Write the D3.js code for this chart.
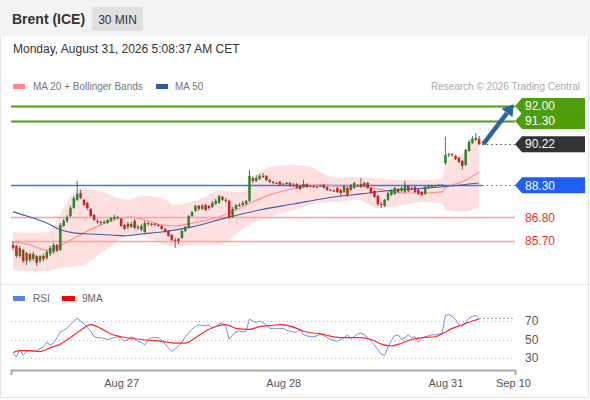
<!DOCTYPE html>
<html>
<head>
<meta charset="utf-8">
<script src="https://cdn.jsdelivr.net/npm/d3@7"></script>
<style>
  body { margin: 0; background: #fff; font-family: "Liberation Sans", Arial, sans-serif; }
</style>
</head>
<body>
<div class="chart"></div>
<script>
// 30 min bars, index 0..138
const opens = [85.52,85.47,85.00,85.28,84.77,85.10,84.86,85.00,84.77,85.00,
  84.91,85.10,85.19,85.52,85.28,86.40,86.64,86.87,87.24,87.62,
  87.94,87.62,87.48,87.20,86.92,86.64,86.59,86.54,86.54,86.64,
  86.73,86.82,86.73,86.45,86.50,86.36,86.64,86.36,86.22,86.12,
  86.54,86.50,86.50,86.45,86.40,86.26,86.17,85.98,85.75,85.80,
  85.84,86.17,86.36,86.87,87.10,87.34,87.20,87.38,87.34,87.29,
  87.43,87.48,87.76,87.62,87.57,86.82,87.20,87.38,87.38,87.43,
  87.57,88.64,88.50,88.60,88.74,88.74,88.55,88.46,88.41,88.46,
  88.36,88.36,88.41,88.27,88.36,88.27,88.22,88.36,88.27,88.27,
  88.22,88.27,88.32,88.22,88.08,88.04,88.18,88.08,87.99,88.18,
  88.08,88.18,88.27,88.36,88.27,88.41,88.18,88.04,87.80,87.43,
  87.34,87.62,87.85,87.90,88.13,88.04,87.99,88.27,88.13,88.22,
  88.08,87.99,87.90,88.18,88.22,88.27,88.27,88.32,89.34,89.72,
  89.76,89.67,89.58,89.44,89.25,89.90,90.28,90.42,90.46]
const closes = [85.38,85.00,85.38,84.77,85.14,84.82,85.10,84.68,85.00,84.86,
  85.19,85.38,85.52,85.24,86.45,86.64,86.82,87.24,87.71,87.90,
  87.71,87.38,87.24,86.87,86.68,86.59,86.54,86.59,86.68,86.78,
  86.82,86.78,86.40,86.26,86.36,86.50,86.31,86.31,86.40,86.54,
  86.50,86.49,86.45,86.40,86.26,86.12,85.94,85.75,85.74,85.70,
  86.17,86.36,86.87,87.06,87.34,87.20,87.34,87.15,87.24,87.48,
  87.57,87.80,87.62,87.57,86.82,87.20,87.38,87.37,87.48,87.57,
  88.74,88.50,88.64,88.74,88.69,88.55,88.46,88.41,88.40,88.32,
  88.37,88.41,88.27,88.32,88.18,88.13,88.36,88.22,88.26,88.22,
  88.21,88.28,88.18,88.08,88.07,88.03,87.99,87.94,88.27,87.85,
  88.32,88.41,88.28,88.22,88.41,88.18,87.94,87.76,87.43,87.38,
  87.62,87.94,88.08,88.18,87.99,88.18,88.32,88.04,88.12,87.99,
  87.90,87.85,88.22,88.27,88.27,88.28,88.32,88.33,89.72,89.76,
  89.72,89.53,89.39,89.20,89.95,90.32,90.46,90.51,90.22]
const highs = [85.66,85.52,85.47,85.33,85.19,85.14,85.19,85.05,85.05,85.10,
  85.28,85.47,85.61,85.56,86.54,86.73,86.92,87.34,87.80,88.50,
  88.08,87.66,87.52,87.24,86.96,86.73,86.64,86.68,86.73,86.82,
  86.92,86.87,86.78,86.50,86.59,86.59,86.73,86.45,86.50,86.64,
  86.59,86.54,86.54,86.50,86.45,86.31,86.22,86.03,85.84,85.84,
  86.22,86.40,86.92,87.10,87.38,87.38,87.43,87.43,87.38,87.57,
  87.66,87.85,87.80,87.71,87.62,87.29,87.43,87.48,87.57,87.62,
  89.02,88.74,88.78,88.83,88.88,88.78,88.60,88.50,88.46,88.50,
  88.41,88.46,88.46,88.41,88.41,88.32,88.55,88.41,88.32,88.32,
  88.27,88.32,88.36,88.27,88.13,88.13,88.22,88.13,88.32,88.22,
  88.36,88.46,88.36,88.64,88.46,88.46,88.22,88.08,87.85,87.52,
  87.66,87.99,88.13,88.22,88.18,88.22,88.50,88.32,88.22,88.27,
  88.13,88.04,88.27,88.32,88.32,88.32,88.36,88.36,90.56,89.81,
  89.81,89.72,89.62,89.48,90.00,90.42,90.60,90.74,90.60]
const lows = [85.28,84.91,84.91,84.68,84.58,84.72,84.77,84.54,84.68,84.77,
  84.82,85.00,85.10,85.19,85.24,86.36,86.54,86.82,87.20,87.57,
  87.66,87.34,87.15,86.82,86.64,86.50,86.45,86.50,86.50,86.59,
  86.68,86.73,86.36,86.22,86.26,86.31,86.26,86.22,86.17,86.08,
  86.40,86.40,86.40,86.36,86.22,86.08,85.89,85.70,85.38,85.56,
  85.80,86.12,86.31,86.82,87.06,87.10,87.15,87.10,87.15,87.24,
  87.38,87.43,87.57,87.48,86.73,86.78,87.15,87.29,87.34,87.38,
  87.52,88.41,88.46,88.55,88.64,88.50,88.41,88.36,88.36,88.27,
  88.32,88.32,88.22,88.22,88.13,88.08,88.18,88.18,88.22,88.18,
  88.18,88.22,88.13,88.04,88.04,87.99,87.94,87.80,87.94,87.76,
  88.04,88.13,88.22,88.18,88.22,88.13,87.90,87.71,87.34,87.24,
  87.29,87.57,87.80,87.85,87.94,87.99,87.94,87.99,88.08,87.94,
  87.85,87.80,87.85,88.13,88.18,88.22,88.27,88.27,89.25,89.62,
  89.62,89.48,89.34,89.02,89.20,89.86,90.23,90.37,90.18]

// MA 20 + Bollinger bands, read at some bars
const bandIdx   = [0,5,10,12,14,17,20,23,26,31,34,38,44,48,52,57,61,66,69,71,74,78,82,88,92,97,101,107,115,124,127,128,131,134,135,138]
const bandUpper = [86.12,86.08,86.12,86.36,86.96,87.76,88.18,88.13,88.04,87.71,87.62,87.80,87.71,87.38,87.48,87.76,88.08,87.99,88.08,88.55,89.02,89.20,89.25,89.16,88.83,88.64,88.69,88.64,88.55,88.55,88.64,89.30,89.62,89.90,90.46,90.60]
const lowIdx    = [0,5,10,14,20,26,30,34,38,44,48,55,61,68,71,76,81,86,91,96,102,108,115,121,127,128,133,138]
const bandLower = [84.35,84.30,84.30,84.44,84.54,85.14,85.56,85.94,85.94,85.56,85.47,85.52,85.52,86.26,86.54,86.82,87.06,87.29,87.48,87.52,87.62,87.24,87.38,87.52,87.48,87.15,87.06,87.29]
const ma20Idx = [0,5,10,13,17,21,26,30,35,39,44,48,52,61,66,71,76,81,86,91,96,101,106,111,116,122,127,128,133,138]
const ma20    = [85.66,85.52,85.28,85.42,85.75,86.08,86.45,86.68,86.82,86.68,86.45,86.40,86.50,86.82,87.15,87.52,87.85,88.08,88.22,88.32,88.27,88.27,88.18,88.04,87.94,87.94,87.99,88.18,88.46,88.92]
const ma50Idx = [0,5,10,14,18,23,29,33,38,44,53,63,73,83,93,103,113,123,138]
const ma50    = [87.06,86.82,86.54,86.22,86.08,86.03,85.98,85.94,86.03,86.12,86.36,86.78,87.15,87.43,87.71,87.90,88.08,88.18,88.41]

// RSI per bar and its 9MA
const rsi = [35,31,39,33,37,38,37,38,40,42,47,44,46,52,58,60,62,66,70,73,
  70,67,63,59,53,52,52,51,50,51,52,53,52,48,50,53,51,48,47,44,
  50,52,52,52,49,45,41,37,40,43,47,53,57,61,64,66,65,65,66,62,
  64,67,68,64,50,55,58,59,58,59,72,70,68,70,68,66,62,62,62,62,
  62,60,59,58,58,62,55,54,53,53,54,56,54,52,50,49,48,50,52,55,
  51,53,56,57,55,52,48,44,39,34,33,42,49,54,55,50,52,55,52,53,
  47,51,53,54,55,55,56,56,76,77,75,72,66,64,69,73,75,76,73]
const rsiMaIdx = [0,2,5,8,11,14,17,20,23,26,29,32,38,44,48,51,54,57,60,63,66,70,73,76,79,84,85,91,97,103,106,109,112,115,118,121,125,127,130,133,136,138]
const rsiMa    = [36,38,38,37,41,45,52,60,66,62,56,53,50,48,46,46,52,59,64,66,62,61,64,65,66,62,60,56,52,52,50,45,43,46,50,52,53,56,62,66,70,72]

// key levels (resistances, last, pivot, supports)
const levels     = [92.00, 91.30, 90.22, 88.30, 86.80, 85.70]
const levelKinds = ['res', 'res', 'last', 'pivot', 'sup', 'sup']

// forecast arrow: [bar, price]
const arrowFrom = [139.2, 90.22]
const arrowTo   = [148.2, 92.08]

const tickIdx    = [32, 80, 128, 148]
const tickLabels = ['Aug 27', 'Aug 28', 'Aug 31', 'Sep 10']
const rsiTicks   = [70, 50, 30]

const W = 590, H = 400
const svg = d3.select('.chart').append('svg')
  .attr('width', W).attr('height', H)
  .style('display', 'block')
  .style('font-family', '"Liberation Sans", Arial, sans-serif')

// frame + header band
svg.append('rect').attr('x', 0.5).attr('y', 0.5).attr('width', W - 2).attr('height', H - 3)
  .attr('fill', '#fff').attr('stroke', '#e6e6e6')
svg.append('rect').attr('x', 0).attr('y', 0).attr('width', W).attr('height', 36).attr('fill', '#f3f3f3')
svg.append('text').attr('x', 12).attr('y', 24).text('Brent (ICE)')
  .attr('font-size', 14).attr('font-weight', 'bold').attr('fill', '#333')
svg.append('rect').attr('x', 92).attr('y', 7).attr('width', 51).attr('height', 24).attr('rx', 2).attr('fill', '#dfe0e2')
svg.append('text').attr('x', 117.5).attr('y', 23.5).attr('text-anchor', 'middle').text('30 MIN')
  .attr('font-size', 12).attr('fill', '#333')
svg.append('text').attr('x', 13).attr('y', 53).text('Monday, August 31, 2026 5:08:37 AM CET')
  .attr('font-size', 12).attr('fill', '#333')

// legend
svg.append('rect').attr('x', 13).attr('y', 84).attr('width', 12).attr('height', 5).attr('fill', '#ff8a8a')
svg.append('text').attr('x', 33).attr('y', 90).text('MA 20 + Bollinger Bands').attr('font-size', 10).attr('fill', '#777')
svg.append('rect').attr('x', 156).attr('y', 84).attr('width', 12).attr('height', 5).attr('fill', '#2f5ea6')
svg.append('text').attr('x', 175).attr('y', 90).text('MA 50').attr('font-size', 10).attr('fill', '#777')
svg.append('text').attr('x', 580).attr('y', 90).attr('text-anchor', 'end').text('Research \u00a9 2026 Trading Central')
  .attr('font-size', 10).attr('fill', '#aaa')

// separator between panels
svg.append('line').attr('x1', 0).attr('x2', W).attr('y1', 284.5).attr('y2', 284.5).attr('stroke', '#e6e6e6')

// scales
const x = d3.scaleLinear().domain([-0.6, 148.6]).range([11, 515])
const y = d3.scaleLinear().domain([85.7, 92]).range([241, 106])
const ry = d3.scaleLinear().domain([30, 70]).range([358, 321])
const n = closes.length
const lineEnd = 515

// bollinger band fill: upper edge forward, lower edge back
const upperPts = bandIdx.map((d, i) => [x(d), y(bandUpper[i])])
const lowerPts = lowIdx.map((d, i) => [x(d), y(bandLower[i])]).reverse()
const upPath = d3.line().curve(d3.curveMonotoneX)(upperPts)
const lowRev = d3.line().curve(d3.curveMonotoneX)(lowerPts)
svg.append('path')
  .attr('d', upPath + 'L' + lowRev.slice(1) + 'Z')
  .attr('fill', '#ffe0e0')

// key level lines
const lastX = x(n - 1) + 3
levels.forEach((v, i) => {
  const k = levelKinds[i]
  const ly = Math.round(y(v)) + 0.5
  if (k === 'res') {
    svg.append('line').attr('x1', 11).attr('x2', lineEnd).attr('y1', ly).attr('y2', ly)
      .attr('stroke', '#4e9d0a').attr('stroke-width', 2)
  } else if (k === 'sup') {
    svg.append('line').attr('x1', 11).attr('x2', lineEnd).attr('y1', ly).attr('y2', ly)
      .attr('stroke', '#ff9f9f').attr('stroke-width', 1.5)
  } else if (k === 'pivot') {
    svg.append('line').attr('x1', 11).attr('x2', lastX).attr('y1', ly).attr('y2', ly)
      .attr('stroke', '#3f74ee').attr('stroke-width', 1.5)
    svg.append('line').attr('x1', lastX).attr('x2', lineEnd).attr('y1', ly).attr('y2', ly)
      .attr('stroke', '#3f74ee').attr('stroke-width', 1.2).attr('stroke-dasharray', '1.5,3')
  } else {
    svg.append('line').attr('x1', lastX).attr('x2', lineEnd).attr('y1', ly).attr('y2', ly)
      .attr('stroke', '#555').attr('stroke-width', 1.2).attr('stroke-dasharray', '1.5,3')
  }
})

// moving averages
svg.append('path')
  .attr('d', d3.line().curve(d3.curveMonotoneX)(ma20Idx.map((d, i) => [x(d), y(ma20[i])])))
  .attr('fill', 'none').attr('stroke', '#ff9090').attr('stroke-width', 1.2)
svg.append('path')
  .attr('d', d3.line().curve(d3.curveMonotoneX)(ma50Idx.map((d, i) => [x(d), y(ma50[i])])))
  .attr('fill', 'none').attr('stroke', '#3d62a8').attr('stroke-width', 1.1)

// candles
const candles = svg.append('g').selectAll('g').data(closes).enter().append('g')
candles.append('line')
  .attr('x1', (d, i) => x(i)).attr('x2', (d, i) => x(i))
  .attr('y1', (d, i) => y(highs[i])).attr('y2', (d, i) => y(lows[i]))
  .attr('stroke', '#555').attr('stroke-width', 0.9)
candles.append('rect')
  .attr('x', (d, i) => x(i) - 1.25).attr('width', 2.5)
  .attr('y', (d, i) => y(Math.max(opens[i], d)))
  .attr('height', (d, i) => Math.max(0.9, Math.abs(y(opens[i]) - y(d))))
  .attr('fill', (d, i) => d >= opens[i] ? '#2b852b' : '#d42020')

// forecast arrow
const ax0 = x(arrowFrom[0]), ay0 = y(arrowFrom[1])
const ax1 = x(arrowTo[0]), ay1 = y(arrowTo[1])
const ang = Math.atan2(ay1 - ay0, ax1 - ax0)
const headL = 11, headW = 7
const bx = ax1 - headL * Math.cos(ang), by = ay1 - headL * Math.sin(ang)
svg.append('line').attr('x1', ax0).attr('y1', ay0).attr('x2', bx).attr('y2', by)
  .attr('stroke', '#2d62a6').attr('stroke-width', 4.5)
svg.append('path')
  .attr('d', `M${ax1},${ay1}L${bx + headW * Math.sin(ang)},${by - headW * Math.cos(ang)}L${bx - headW * Math.sin(ang)},${by + headW * Math.cos(ang)}Z`)
  .attr('fill', '#2d62a6')

// level labels
const tagFill = { res: '#4e9d0a', last: '#333333', pivot: '#1f60f4' }
levels.forEach((v, i) => {
  const k = levelKinds[i]
  const cy = y(v)
  if (k !== 'sup') {
    svg.append('path')
      .attr('d', `M515,${cy}L522,${cy - 8}L585,${cy - 8}L585,${cy + 8}L522,${cy + 8}Z`)
      .attr('fill', tagFill[k])
  }
  svg.append('text').attr('x', 525).attr('y', cy).attr('dy', '0.36em')
    .text(v.toFixed(2)).attr('font-size', 12)
    .attr('fill', k === 'sup' ? '#f22a2a' : '#fff')
})

// RSI panel
svg.append('rect').attr('x', 13).attr('y', 296).attr('width', 12).attr('height', 5).attr('fill', '#5b80e0')
svg.append('text').attr('x', 33).attr('y', 302).text('RSI').attr('font-size', 10).attr('fill', '#666')
svg.append('rect').attr('x', 62).attr('y', 296).attr('width', 13).attr('height', 5).attr('fill', '#ff0000')
svg.append('text').attr('x', 82).attr('y', 302).text('9MA').attr('font-size', 10).attr('fill', '#666')

svg.append('g').selectAll('line').data(rsiTicks).enter().append('line')
  .attr('x1', 11).attr('x2', lineEnd)
  .attr('y1', d => Math.round(ry(d)) + 0.5).attr('y2', d => Math.round(ry(d)) + 0.5)
  .attr('stroke', '#bbb').attr('stroke-dasharray', '1,3')

const rsiAxis = svg.append('g').attr('transform', 'translate(520,0)')
  .call(d3.axisRight(ry).tickValues(rsiTicks).tickSize(0).tickPadding(5))
rsiAxis.select('.domain').remove()
rsiAxis.selectAll('text').attr('font-size', 12).attr('fill', '#555')
  .attr('font-family', '"Liberation Sans", Arial, sans-serif')

svg.append('line')
  .attr('x1', x(n - 1)).attr('x2', lineEnd)
  .attr('y1', Math.round(ry(rsi[n - 1])) + 0.5).attr('y2', Math.round(ry(rsi[n - 1])) + 0.5)
  .attr('stroke', '#7d97e6').attr('stroke-dasharray', '1.5,2.5')

svg.append('path')
  .attr('d', d3.line().x((d, i) => x(i)).y(d => ry(d))(rsi))
  .attr('fill', 'none').attr('stroke', '#7090e4').attr('stroke-width', 1)
svg.append('path')
  .attr('d', d3.line().curve(d3.curveMonotoneX)(rsiMaIdx.map((d, i) => [x(d), ry(rsiMa[i])])))
  .attr('fill', 'none').attr('stroke', '#ff2a2a').attr('stroke-width', 1.2)

// time axis
const xAxis = svg.append('g').attr('transform', 'translate(0,370)')
  .call(d3.axisBottom(x).tickValues(tickIdx).tickFormat((d, i) => tickLabels[i])
    .tickSizeInner(0).tickSizeOuter(5).tickPadding(9))
xAxis.select('.domain').attr('stroke', '#aaa').attr('stroke-width', 2)
xAxis.selectAll('text').attr('font-size', 11).attr('fill', '#555')
  .attr('font-family', '"Liberation Sans", Arial, sans-serif')
</script>
</body>
</html>
